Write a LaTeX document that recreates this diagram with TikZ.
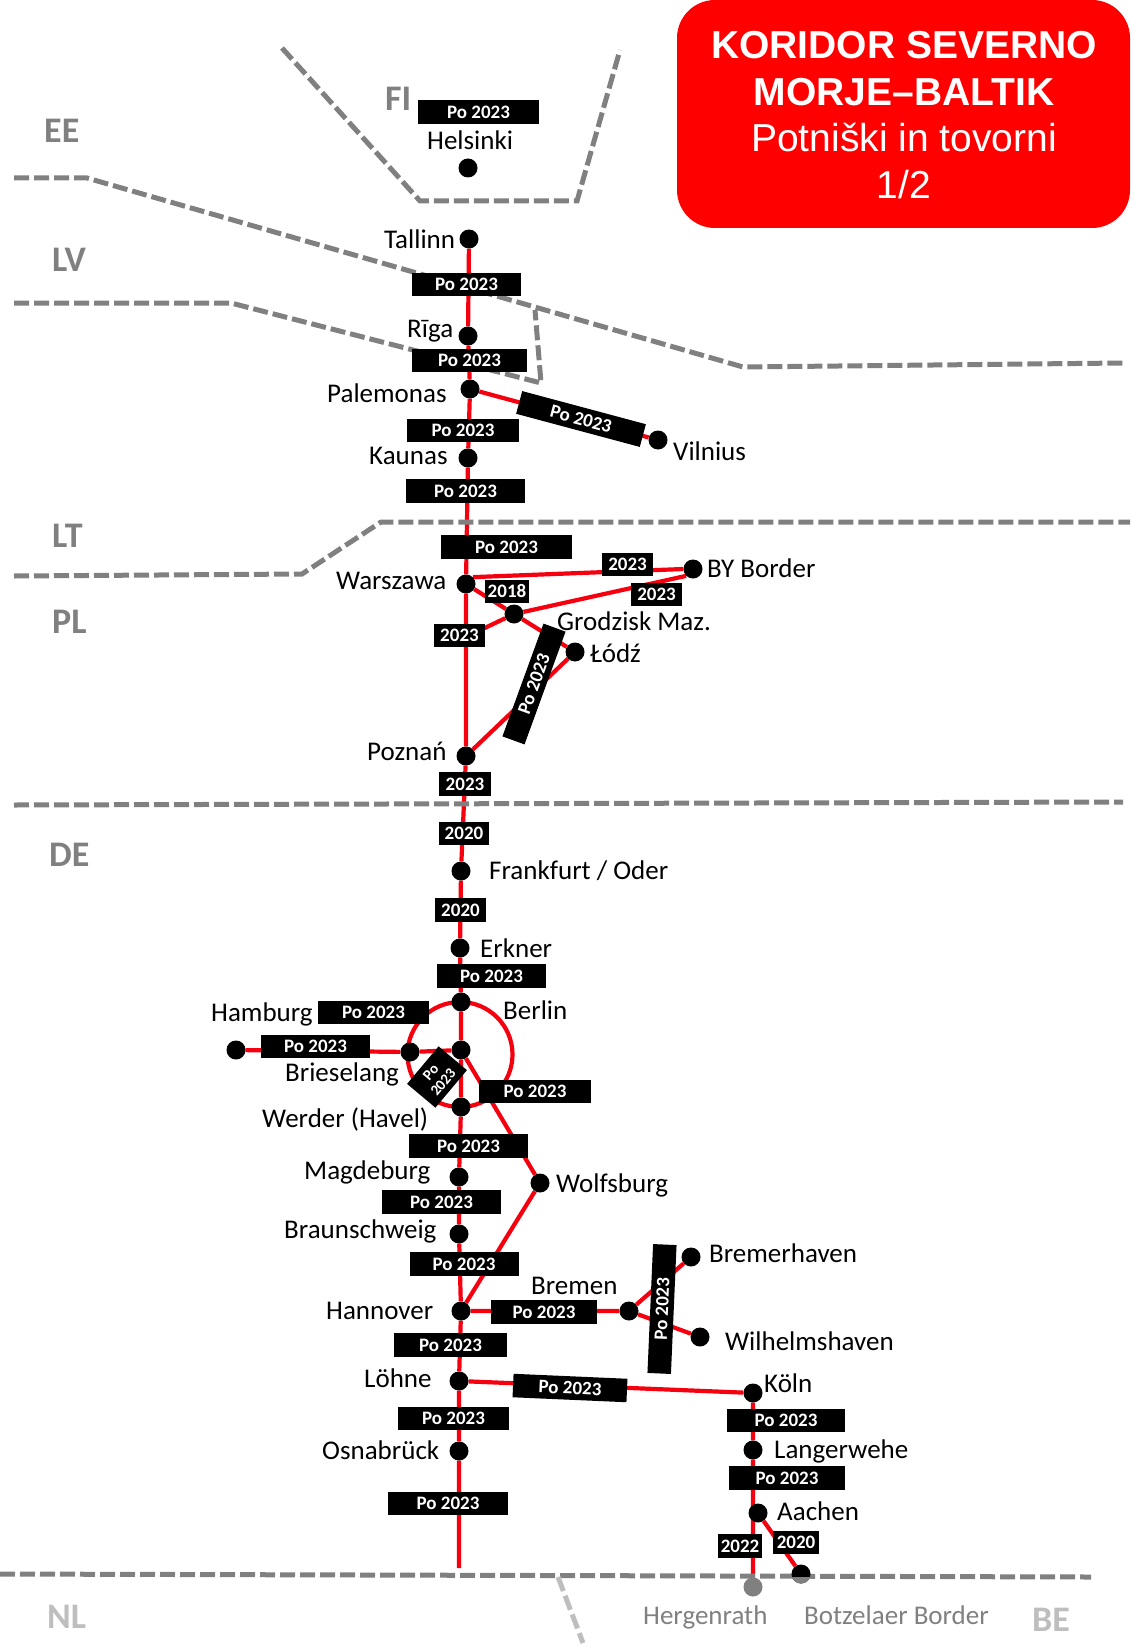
\documentclass[tikz,border=0pt]{standalone}
\usepackage{fontspec}
\setmainfont{Carlito}
\newfontfamily\titlefont{Liberation Sans}
\usetikzlibrary{backgrounds}
\definecolor{bordergray}{RGB}{128,128,128}
\definecolor{washgray}{RGB}{190,190,190}
\definecolor{trackred}{RGB}{245,0,15}
\tikzset{
  stop/.style={circle,fill=black,minimum size=19pt,inner sep=0pt},
  track/.style={draw=trackred,line width=4.2pt},
  frontier/.style={draw=bordergray,line width=5pt,dash pattern=on 15pt off 5pt},
  tag/.style={fill=black,text=white,inner sep=0pt,minimum height=23.5pt,font=\fontsize{19}{21}\selectfont\bfseries},
  city/.style={anchor=base west,inner sep=0pt,font=\fontsize{27}{30}\selectfont},
  land/.style={anchor=base west,inner sep=0pt,text=bordergray,font=\fontsize{36}{40}\selectfont\bfseries},
}
\begin{document}
\begin{tikzpicture}[x=1pt,y=-1pt]
\useasboundingbox (0,0) rectangle (1130,1645);
% Title panel
\node[fill=red,rounded corners=38pt,minimum width=453pt,minimum height=228pt,inner sep=0pt] (panel) at (903.5,114) {};
\node[anchor=base,inner sep=0pt,text=white,font=\titlefont\fontsize{39}{44}\selectfont\bfseries] (title1) at (904,59) {KORIDOR SEVERNO};
\node[anchor=base,inner sep=0pt,text=white,font=\titlefont\fontsize{39}{44}\selectfont\bfseries] (title2) at (904,106) {MORJE–BALTIK};
\node[anchor=base,inner sep=0pt,text=white,font=\titlefont\fontsize{39}{44}\selectfont] (title3) at (904,152) {Potniški in tovorni};
\node[anchor=base,inner sep=0pt,text=white,font=\titlefont\fontsize{39}{44}\selectfont] (title4) at (904,199) {1/2};
% Stations
\foreach \name/\x/\y in {helsinki/468/168,tallinn/469/239,riga/468/336,palemonas/470/389,kaunas/468/458,
    vilnius/658/440,warszawa/466/584,byborder/693/569,grodzisk/514/614,lodz/575/652,poznan/466/756,
    frankfurt/461/871,erkner/460/948,berlin/461/1002,berlinc/461/1050,brieselang/410/1052,hamburg/236/1050,
    werder/461/1107,magdeburg/459/1177,braunschweig/459/1234,wolfsburg/540/1183,hannover/461/1311,
    bremen/629/1311,bremerhaven/691/1257,wilhelmshaven/700/1337,lohne/459/1381,osnabruck/459/1451,
    koln/753/1393,langerwehe/753/1450,aachen/758/1513,botzelaer/801/1574} {
  \node[stop] (\name) at (\x,\y) {};
}
\node[stop,fill=bordergray] (hergenrath) at (753,1587) {};
\begin{scope}
  \clip (780,1577) rectangle (825,1590);
  \node[stop,fill=bordergray] (botzelaerlow) at (801,1574) {};
\end{scope}
\coordinate (mainend) at (459,1568);
\coordinate (warszawaside) at (466,637);
% Straight labels on the lines
\foreach \name/\x/\y/\w/\txt in {tfi/478.5/112/121/Po 2023,ttal/466.5/284.5/109/Po 2023,trig/469.5/360.5/115/Po 2023,
    tpal/463/430.5/112/Po 2023,tkau/465.5/491/119/Po 2023,twar/506.5/547/131/Po 2023,twby/627.5/564.5/51/2023,
    tgby/656.5/594.5/51/2023,tgro/507/591.5/44/2018,twgr/459.5/635.5/51/2023,tpoz/465/784/52/2023,
    tfra/464/833.5/50/2020,tfrb/460.5/910/51/2020,terk/491.5/976/109/Po 2023,thama/373.5/1012.5/111/Po 2023,
    thamb/315.5/1046.5/109/Po 2023,tring/535/1091.5/112/Po 2023,twer/468.5/1146/119/Po 2023,tmag/441.5/1202/119/Po 2023,
    tbra/464/1264/109/Po 2023,than/450.5/1345/113/Po 2023,tbre/544/1312/106/Po 2023,tloh/453.5/1418.5/111/Po 2023,
    tosn/448/1503.5/120/Po 2023,tkol/786/1420.5/118/Po 2023,tlan/787/1478/116/Po 2023,taaa/740/1546/44/2022,taab/796/1542.5/46/2020} {
  \node[tag,minimum width=\w pt] (\name) at (\x,\y) {\txt};
}
% Tilted labels
\foreach \name/\x/\y/\w/\ang in {tvil/581/419/128/-15,tlod/534/684/120/70,tbrh/662/1309/129/87.5,tkoe/570/1388/114/-2.5} {
  \node[tag,minimum width=\w pt,rotate=\ang] (\name) at (\x,\y) {Po 2023};
}
\node[tag,minimum width=49pt,minimum height=37pt,rotate=50,align=center,font=\fontsize{15}{16}\selectfont\bfseries] (tdia) at (437,1077) {Po\\2023};
% City names
\foreach \name/\x/\y/\txt in {Helsinki/427/150/Helsinki,Tallinn/384/248/Tallinn,Riga/407/337/Rīga,Palemonas/327/402/Palemonas,
    Kaunas/369/464/Kaunas,Vilnius/673/460/Vilnius,Warszawa/336/589/Warszawa,BY/707/577/BY Border,Grodzisk/557/630/Grodzisk Maz.,
    Lodz/590/662/Łódź,Poznan/367/760/Poznań,Erkner/480/957/Erkner,Berlin/503/1019/Berlin,
    Hamburg/211/1021/Hamburg,Brieselang/285/1081/Brieselang,Werder/262/1127/Werder (Havel),Magdeburg/304/1179/Magdeburg,
    Braunschweig/284/1238/Braunschweig,Wolfsburg/556/1192/Wolfsburg,Hannover/326/1319/Hannover,Bremen/531/1294/Bremen,
    Bremerhaven/709/1262/Bremerhaven,Wilhelmshaven/725/1350/Wilhelmshaven,Lohne/364/1387/Löhne,Koln/764/1392/Köln,
    Langerwehe/774/1458/Langerwehe,Osnabruck/322/1459/Osnabrück,Aachen/777/1520/Aachen} {
  \node[city] (n\name) at (\x,\y) {\txt};
}
\node[city] (nFrankfurt) at (489,879) {Frankfurt / Oder};
\node[city,text=bordergray] (nHergenrath) at (643,1624) {Hergenrath};
\node[city,text=bordergray] (nBotzelaer) at (804,1624) {Botzelaer Border};
% Country codes
\foreach \name/\x/\y in {EE/44/143,LV/52/271,LT/52/547,PL/52/633,DE/49/866,FI/385/111} {
  \node[land] (c\name) at (\x,\y) {\name};
}
\node[land,text=washgray] (cNL) at (47,1628) {NL};
\node[land,text=washgray] (cBE) at (1032,1631) {BE};
\begin{scope}[on background layer]
% Red lines
\draw[track] (tallinn) -- (riga) -- (palemonas) -- (kaunas) -- (warszawa) -- (poznan) -- (frankfurt) -- (erkner)
  -- (berlin) -- (berlinc) -- (werder) -- (magdeburg) -- (braunschweig) -- (hannover) -- (lohne) -- (osnabruck) -- (mainend);
\draw[track] (palemonas) -- (vilnius);
\draw[track] (warszawa.north east) -- (byborder.west);
\draw[track] (warszawa) -- (grodzisk) -- (byborder.south west);
\draw[track] (warszawaside) -- (grodzisk) -- (lodz) -- (poznan);
\node[circle,track,fill=none,minimum size=105pt,inner sep=0pt] (ring) at (460,1054.5) {};
\draw[track] (hamburg) -- (brieselang) -- (berlinc) -- (wolfsburg) -- (hannover) -- (bremen);
\draw[track] (bremerhaven) -- (bremen) -- (wilhelmshaven);
\draw[track] (lohne) -- (koln) -- (langerwehe) -- (hergenrath);
\draw[track] (aachen) -- (botzelaer);
% Borders
\draw[frontier] (282,48) -- (420,201) -- (577,201) -- (620,50);
\draw[frontier] (14,178) -- (87,178) -- (743,367) -- (1123,363);
\draw[frontier] (14,303) -- (231,303) -- (541,383) -- (535,310);
\draw[frontier] (14,576) -- (302,574) -- (381,522) -- (1130,522);
\draw[frontier] (14,805) -- (1123,802);
\draw[frontier] (0,1574) -- (1091,1577);
\draw[frontier,draw=washgray] (558,1577) -- (583,1643);
\end{scope}
\end{tikzpicture}
\end{document}
